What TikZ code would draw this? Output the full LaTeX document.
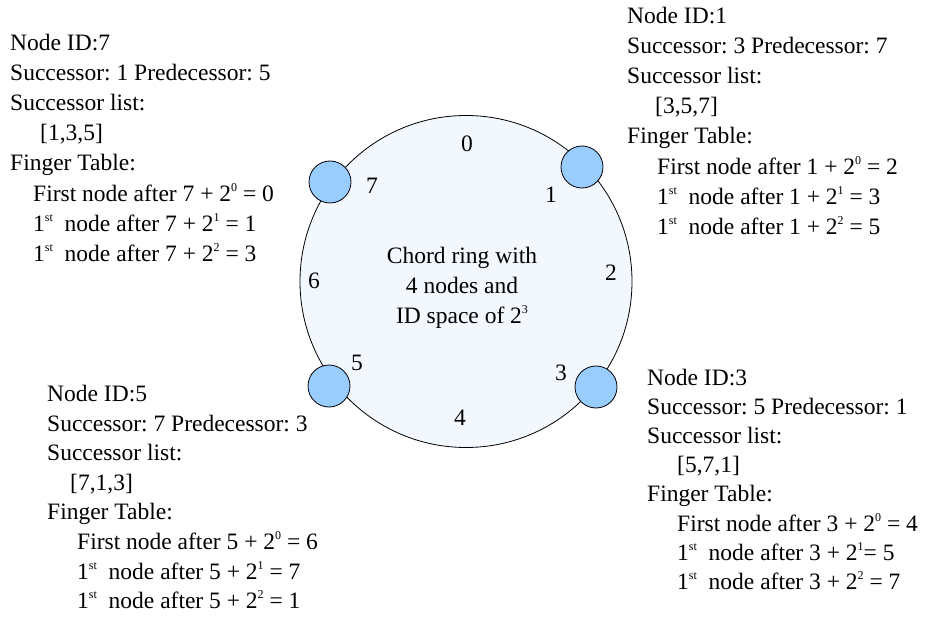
\documentclass[tikz,border=0pt]{standalone}
\usepackage{fontspec}
\setmainfont{Liberation Serif}
\frenchspacing
\definecolor{ringfill}{RGB}{242,248,254}
\definecolor{peerfill}{RGB}{153,204,255}
% small raised text for powers and ordinals
\newcommand{\sps}[1]{\raisebox{0.42em}{\fontsize{12}{12}\selectfont #1}}
\tikzset{
  ring/.style={circle, draw=black, line width=0.8pt, fill=ringfill,
    minimum size=332pt, inner sep=0pt},
  peer/.style={circle, draw=black, line width=0.8pt, fill=peerfill,
    minimum size=42pt, inner sep=0pt},
  idnum/.style={inner sep=0pt, font=\fontsize{23.5}{28}\selectfont},
  info/.style={inner sep=0pt, anchor=north west, align=left,
    font=\fontsize{23.5}{#1}\selectfont},
  title/.style={inner sep=0pt, anchor=north, align=center,
    font=\fontsize{23.5}{30}\selectfont}
}
\begin{document}
\begin{tikzpicture}[x=1pt, y=-1pt]
  \useasboundingbox (0,0) rectangle (928,617);

  % the identifier ring
  \node[ring] (ring) at (466,281.5) {};
  \node[title] (caption) at (462,247)
    {Chord ring with\\4 nodes and\\ID space of 2\sps{3}};

  % identifier positions round the ring
  \node[idnum] (id0) at (467,144) {0};
  \node[idnum] (id1) at (551,195) {1};
  \node[idnum] (id2) at (611,273) {2};
  \node[idnum] (id3) at (561,373) {3};
  \node[idnum] (id4) at (460,418) {4};
  \node[idnum] (id5) at (357,363) {5};
  \node[idnum] (id6) at (314,281) {6};
  \node[idnum] (id7) at (372,186) {7};

  % the four peers
  \node[peer] (p7) at (330,182) {};
  \node[peer] (p1) at (582,167) {};
  \node[peer] (p5) at (329,386) {};
  \node[peer] (p3) at (596,387) {};

  % routing state of each peer
  \node[info=30.1] (state7) at (10,34) {%
    Node ID:7\\
    Successor: 1 Predecessor: 5\\
    Successor list:\\
    \hspace*{30pt}[1,3,5]\\
    Finger Table:\\
    \hspace*{23pt}First node after 7 + 2\sps{0} = 0\\
    \hspace*{23pt}1\sps{st}\ \ node after 7 + 2\sps{1} = 1\\
    \hspace*{23pt}1\sps{st}\ \ node after 7 + 2\sps{2} = 3};

  \node[info=30.1] (state1) at (627,7) {%
    Node ID:1\\
    Successor: 3 Predecessor: 7\\
    Successor list:\\
    \hspace*{28pt}[3,5,7]\\
    Finger Table:\\
    \hspace*{30pt}First node after 1 + 2\sps{0} = 2\\
    \hspace*{30pt}1\sps{st}\ \ node after 1 + 2\sps{1} = 3\\
    \hspace*{30pt}1\sps{st}\ \ node after 1 + 2\sps{2} = 5};

  \node[info=29.6] (state5) at (47,385) {%
    Node ID:5\\
    Successor: 7 Predecessor: 3\\
    Successor list:\\
    \hspace*{23pt}[7,1,3]\\
    Finger Table:\\
    \hspace*{30pt}First node after 5 + 2\sps{0} = 6\\
    \hspace*{30pt}1\sps{st}\ \ node after 5 + 2\sps{1} = 7\\
    \hspace*{30pt}1\sps{st}\ \ node after 5 + 2\sps{2} = 1};

  \node[info=29.1] (state3) at (647,369) {%
    Node ID:3\\
    Successor: 5 Predecessor: 1\\
    Successor list:\\
    \hspace*{30pt}[5,7,1]\\
    Finger Table:\\
    \hspace*{30pt}First node after 3 + 2\sps{0} = 4\\
    \hspace*{30pt}1\sps{st}\ \ node after 3 + 2\sps{1}= 5\\
    \hspace*{30pt}1\sps{st}\ \ node after 3 + 2\sps{2} = 7};
\end{tikzpicture}
\end{document}
